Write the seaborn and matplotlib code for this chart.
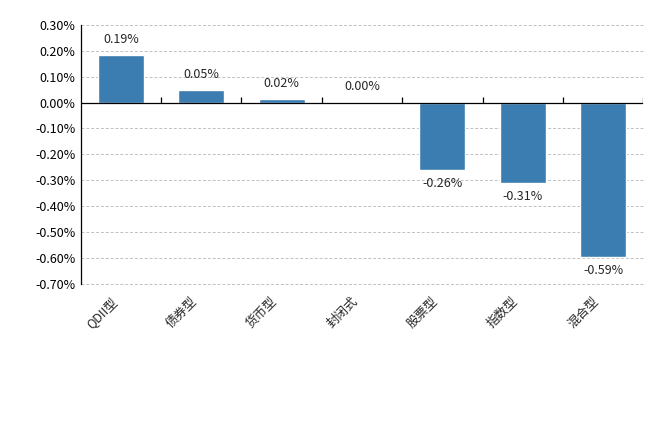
import numpy as np
import pandas as pd
import matplotlib
matplotlib.use("Agg")
import matplotlib.pyplot as plt
import matplotlib.transforms as mtransforms
import seaborn as sns
from matplotlib.ticker import FuncFormatter

categories = ["QDII型", "债券型", "货币型", "封闭式", "股票型", "指数型", "混合型"]
values = [0.185, 0.05, 0.015, 0.004, -0.26, -0.31, -0.595]
value_labels = ["0.19%", "0.05%", "0.02%", "0.00%", "-0.26%", "-0.31%", "-0.59%"]
y_ticks = [0.3, 0.2, 0.1, 0.0, -0.1, -0.2, -0.3, -0.4, -0.5, -0.6, -0.7]

sns.set_style("white")
plt.rcParams['font.family'] = ['Noto Sans CJK SC', 'DejaVu Sans']
plt.rcParams['axes.unicode_minus'] = False

df = pd.DataFrame({"类型": categories, "涨跌幅": values})

fig = plt.figure(figsize=(6.57, 4.3), dpi=100)
ax = fig.add_axes([0.123, 0.340, 0.856, 0.602])

sns.barplot(data=df, x="类型", y="涨跌幅", color="#3b7db0", saturation=1,
            width=0.57, ax=ax, zorder=3)

ax.set_xlim(-0.5, len(categories) - 0.5)
ax.set_ylim(-0.7, 0.3)
ax.set_yticks(y_ticks)
ax.yaxis.set_major_formatter(FuncFormatter(lambda v, p: f"{v:.2f}%"))
ax.tick_params(axis="y", direction="in", length=3, width=0.8, labelsize=9, pad=4,
               colors="black")
ax.grid(axis="y", linestyle=(0, (3, 2)), color="#c0c0c0", linewidth=0.7, zorder=0)
ax.set_axisbelow(True)
for gl in ax.get_ygridlines():
    gl.set_clip_on(False)

# category labels
ax.set_xticks(range(len(categories)))
ax.set_xticklabels(categories, rotation=45, ha="right", rotation_mode="anchor",
                   fontsize=9)
ax.tick_params(axis="x", length=0, pad=8)
shift = mtransforms.ScaledTranslation(-8 / 72, 0, fig.dpi_scale_trans)
for t in ax.get_xticklabels():
    t.set_transform(t.get_transform() + shift)

for s in ["top", "right", "bottom"]:
    ax.spines[s].set_visible(False)
ax.spines["left"].set_linewidth(0.9)
ax.spines["left"].set_color("black")

# zero line with boundary ticks
ax.axhline(0, color="black", linewidth=0.9, zorder=4)
bounds = np.arange(len(categories) + 1) - 0.5
ax.vlines(bounds[1:], 0, 0.02, color="black", linewidth=0.9, zorder=4)

for i, (v, lab) in enumerate(zip(values, value_labels)):
    if v >= 0:
        ax.annotate(lab, (i, v), xytext=(0, 6), textcoords="offset points",
                    ha="center", va="bottom", fontsize=9)
    else:
        ax.annotate(lab, (i, v), xytext=(0, -5), textcoords="offset points",
                    ha="center", va="top", fontsize=9)

ax.set_xlabel("")
ax.set_ylabel("")

fig.savefig("out.png", dpi=100)
